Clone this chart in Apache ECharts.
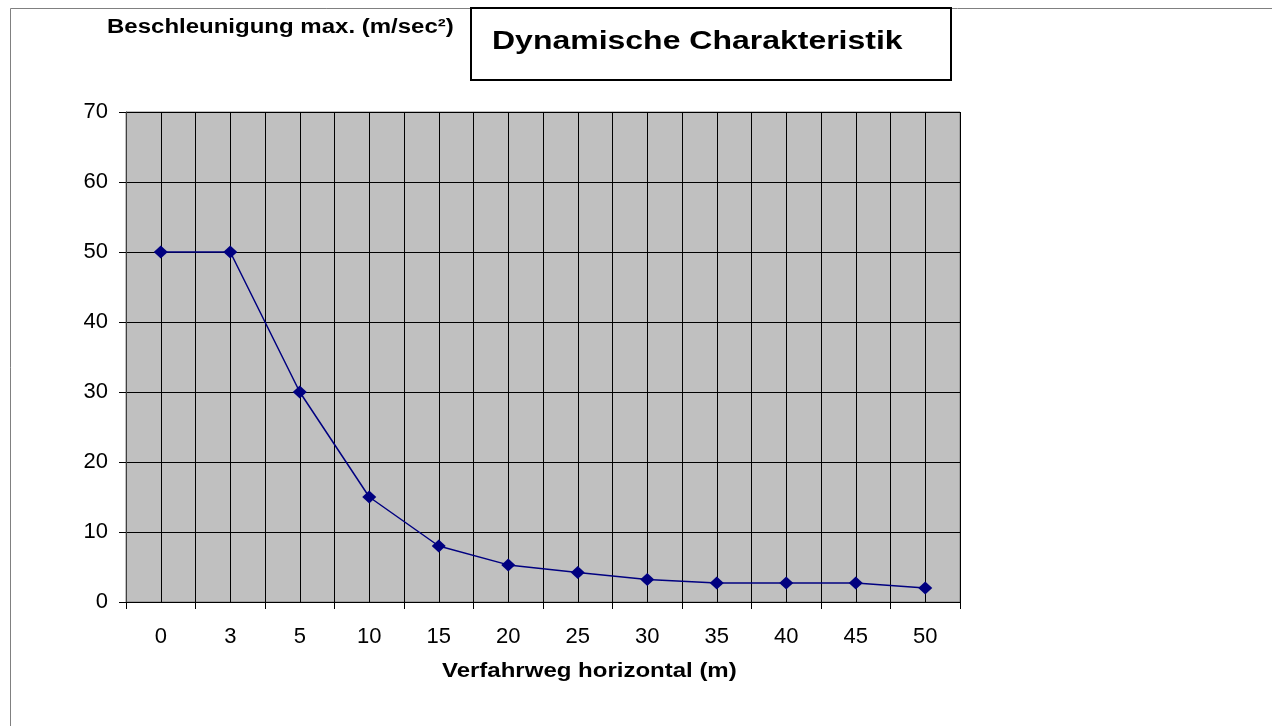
<!DOCTYPE html>
<html>
<head>
<meta charset="utf-8">
<script src="https://cdn.jsdelivr.net/npm/echarts@6/dist/echarts.min.js"></script>
<style>
html,body{margin:0;padding:0;background:#fff;}
#chart{width:1272px;height:726px;}
</style>
</head>
<body>
<div id="chart"></div>
<script>
var categories = ['0', '3', '5', '10', '15', '20', '25', '30', '35', '40', '45', '50'];
var acceleration = [50, 50, 30, 15, 8, 5.3, 4.2, 3.2, 2.7, 2.7, 2.7, 2.0];
var yTicks = [0, 10, 20, 30, 40, 50, 60, 70];
var titleText = 'Dynamische Charakteristik';
var yName = 'Beschleunigung max. (m/sec²)';
var xName = 'Verfahrweg horizontal (m)';

var chart = echarts.init(document.getElementById('chart'), null, {renderer: 'canvas'});
var FONT = '"Liberation Sans", Arial, sans-serif';

chart.setOption({
  animation: false,
  backgroundColor: '#ffffff',
  grid: {
    left: 126, right: 312, top: 112, bottom: 124,
    show: true, backgroundColor: '#c0c0c0', borderColor: '#808080', borderWidth: 1
  },
  xAxis: {
    type: 'category',
    data: categories,
    boundaryGap: true,
    axisLine: {show: true, lineStyle: {color: '#000', width: 1}},
    axisTick: {show: true, length: 7, lineStyle: {color: '#000'}},
    axisLabel: {color: '#000', fontFamily: FONT, fontSize: 22, margin: 24},
    splitLine: {show: true, lineStyle: {color: '#000', width: 1}}
  },
  yAxis: {
    type: 'value',
    min: yTicks[0],
    max: yTicks[yTicks.length - 1],
    interval: 10,
    axisLine: {show: true, lineStyle: {color: '#404040', width: 1}},
    axisTick: {show: true, length: 7, lineStyle: {color: '#000'}},
    axisLabel: {color: '#000', fontFamily: FONT, fontSize: 22, margin: 18},
    splitLine: {show: true, lineStyle: {color: '#000', width: 1}}
  },
  series: [
    {
      type: 'line',
      data: [],
      z: 1,
      silent: true,
      markLine: {
        silent: true,
        symbol: ['none', 'none'],
        label: {show: false},
        lineStyle: {color: '#000', type: 'solid', width: 1},
        emphasis: {disabled: true},
        data: categories.map(function (c) { return {xAxis: c}; })
      }
    },
    {
      type: 'line',
      data: acceleration,
      z: 5,
      symbol: 'diamond',
      symbolSize: [14, 13],
      lineStyle: {color: '#000080', width: 1.5},
      itemStyle: {color: '#000080'},
      emphasis: {disabled: true}
    }
  ],
  graphic: [
    {
      type: 'rect', z: 0, silent: true,
      shape: {x: 10.5, y: 8.5, width: 1400, height: 900},
      style: {fill: 'none', stroke: '#808080', lineWidth: 1}
    },
    {
      type: 'rect', z: 10, silent: true,
      shape: {x: 471, y: 8, width: 480, height: 72},
      style: {fill: '#fff', stroke: '#000', lineWidth: 2}
    },
    {
      type: 'text', z: 11, silent: true,
      x: 492, y: 42, scaleX: 1.23,
      style: {text: titleText, fill: '#000', font: 'bold 26px ' + FONT, textAlign: 'left', textVerticalAlign: 'middle'}
    },
    {
      type: 'text', z: 11, silent: true,
      x: 107, y: 27, scaleX: 1.2,
      style: {text: yName, fill: '#000', font: 'bold 20px ' + FONT, textAlign: 'left', textVerticalAlign: 'middle'}
    },
    {
      type: 'text', z: 11, silent: true,
      x: 442, y: 671, scaleX: 1.2,
      style: {text: xName, fill: '#000', font: 'bold 20px ' + FONT, textAlign: 'left', textVerticalAlign: 'middle'}
    }
  ]
});
</script>
</body>
</html>
